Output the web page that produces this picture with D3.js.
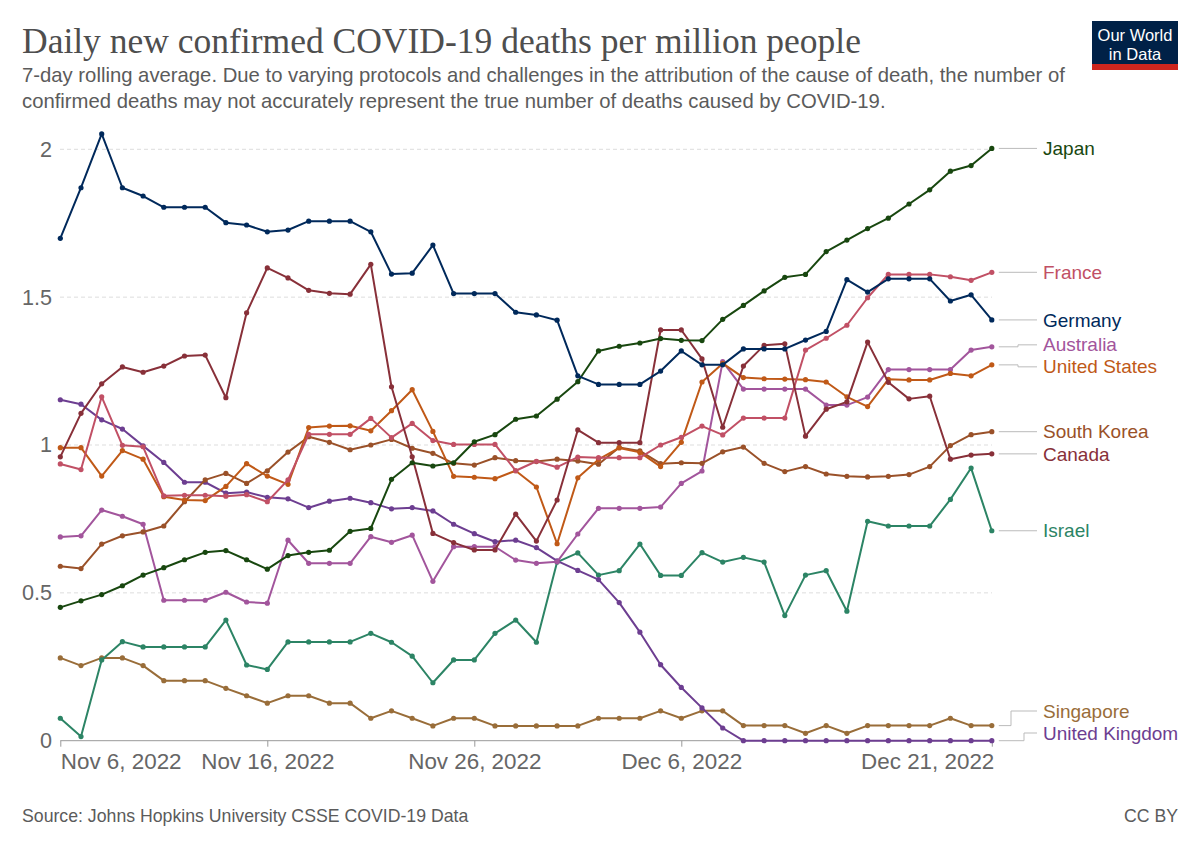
<!DOCTYPE html>
<html lang="en">
<head>
<meta charset="UTF-8">
<title>Daily new confirmed COVID-19 deaths per million people</title>
<script src="https://d3js.org/d3.v7.min.js"></script>
<style>
  body { margin: 0; background: #fff; }
  text { font-family: "Liberation Sans", Arial, sans-serif; }
</style>
</head>
<body>
<svg id="chart" width="1200" height="847"></svg>
<script>
// ---- data ----
const startDate = "2022-11-06";
const tickDates = ["2022-11-06", "2022-11-16", "2022-11-26", "2022-12-06", "2022-12-21"];
const tickLabels = ["Nov 6, 2022", "Nov 16, 2022", "Nov 26, 2022", "Dec 6, 2022", "Dec 21, 2022"];
const yTicks = [0, 0.5, 1, 1.5, 2];

const japan = [0.451,0.473,0.494,0.524,0.560,0.585,0.612,0.637,0.643,0.612,0.580,0.626,0.637,0.644,0.708,0.718,0.884,0.940,0.929,0.940,1.011,1.035,1.087,1.098,1.155,1.214,1.318,1.334,1.345,1.360,1.354,1.353,1.425,1.472,1.521,1.567,1.577,1.654,1.693,1.732,1.767,1.815,1.863,1.926,1.945,2.003];
const germany = [1.699,1.870,2.052,1.870,1.842,1.804,1.804,1.804,1.752,1.744,1.721,1.727,1.757,1.757,1.757,1.721,1.578,1.581,1.676,1.512,1.512,1.512,1.449,1.440,1.422,1.234,1.205,1.205,1.205,1.250,1.318,1.271,1.271,1.325,1.325,1.325,1.355,1.384,1.559,1.517,1.562,1.562,1.562,1.487,1.508,1.423];
const france = [0.936,0.917,1.163,0.999,0.994,0.828,0.830,0.830,0.827,0.832,0.808,0.882,1.036,1.036,1.036,1.090,1.025,1.073,1.015,1.002,1.002,1.002,0.913,0.945,0.925,0.959,0.957,0.957,0.957,1.000,1.026,1.064,1.034,1.091,1.091,1.091,1.321,1.361,1.405,1.498,1.577,1.577,1.577,1.569,1.557,1.584];
const canada = [0.960,1.107,1.207,1.264,1.246,1.267,1.301,1.304,1.160,1.447,1.599,1.565,1.523,1.513,1.510,1.611,1.197,0.960,0.701,0.670,0.645,0.645,0.766,0.675,0.814,1.051,1.008,1.008,1.008,1.389,1.389,1.291,1.060,1.267,1.337,1.342,1.030,1.121,1.146,1.348,1.212,1.156,1.165,0.952,0.966,0.970];
const unitedStates = [0.991,0.991,0.895,0.981,0.952,0.825,0.814,0.812,0.860,0.937,0.895,0.867,1.059,1.064,1.065,1.048,1.116,1.187,1.046,0.894,0.891,0.886,0.913,0.858,0.666,0.889,0.951,0.990,0.975,0.927,1.009,1.213,1.276,1.228,1.224,1.223,1.221,1.213,1.163,1.130,1.222,1.220,1.220,1.242,1.234,1.271];
const australia = [0.689,0.693,0.780,0.759,0.732,0.475,0.475,0.475,0.502,0.469,0.465,0.678,0.600,0.600,0.600,0.690,0.671,0.695,0.539,0.656,0.656,0.656,0.611,0.600,0.605,0.699,0.786,0.786,0.786,0.790,0.870,0.912,1.282,1.189,1.189,1.189,1.189,1.135,1.135,1.162,1.255,1.255,1.255,1.255,1.321,1.332];
const unitedKingdom = [1.153,1.138,1.085,1.054,0.997,0.941,0.874,0.874,0.837,0.841,0.823,0.818,0.788,0.810,0.820,0.805,0.784,0.788,0.777,0.732,0.700,0.673,0.678,0.653,0.608,0.576,0.545,0.467,0.367,0.257,0.180,0.111,0.043,0,0,0,0,0,0,0,0,0,0,0,0,0];
const israel = [0.076,0.014,0.273,0.335,0.317,0.317,0.317,0.317,0.408,0.256,0.241,0.334,0.334,0.334,0.334,0.363,0.333,0.286,0.196,0.273,0.273,0.363,0.408,0.333,0.604,0.635,0.560,0.575,0.665,0.559,0.559,0.636,0.604,0.620,0.604,0.423,0.560,0.575,0.438,0.742,0.726,0.726,0.726,0.816,0.922,0.710];
const singapore = [0.280,0.254,0.280,0.280,0.254,0.203,0.203,0.203,0.177,0.152,0.127,0.152,0.152,0.127,0.127,0.076,0.101,0.076,0.050,0.076,0.076,0.050,0.050,0.050,0.050,0.050,0.076,0.076,0.076,0.101,0.076,0.101,0.101,0.051,0.051,0.051,0.025,0.051,0.025,0.051,0.051,0.051,0.051,0.076,0.051,0.051];
const southKorea = [0.590,0.582,0.665,0.693,0.706,0.726,0.808,0.882,0.904,0.870,0.913,0.976,1.028,1.009,0.984,1.000,1.019,0.989,0.972,0.938,0.932,0.957,0.947,0.944,0.952,0.946,0.935,0.992,0.980,0.937,0.940,0.938,0.977,0.993,0.938,0.910,0.927,0.902,0.894,0.892,0.894,0.900,0.927,0.998,1.035,1.045];

const series = [
  {name: "Singapore", values: singapore, color: "#996D39"},
  {name: "Israel", values: israel, color: "#2C8465"},
  {name: "United Kingdom", values: unitedKingdom, color: "#6D3E91"},
  {name: "Australia", values: australia, color: "#A2559C"},
  {name: "South Korea", values: southKorea, color: "#9A5129"},
  {name: "United States", values: unitedStates, color: "#C05917"},
  {name: "France", values: france, color: "#C15065"},
  {name: "Canada", values: canada, color: "#883039"},
  {name: "Japan", values: japan, color: "#18470F"},
  {name: "Germany", values: germany, color: "#00295B"}
];

// ---- layout ----
const svg = d3.select("#chart");
const parse = d3.utcParse("%Y-%m-%d");
const t0 = parse(startDate);
const dayMs = 86400000;
const dates = d3.range(japan.length).map(i => new Date(t0.getTime() + i * dayMs));

const x = d3.scaleUtc().domain([dates[0], dates[dates.length - 1]]).range([60.3, 991.8]);
const y = d3.scaleLinear().domain([0, 2]).range([740.7, 149.3]);

// header
svg.append("text").attr("x", 22).attr("y", 53)
  .style("font-family", "'Liberation Serif', 'DejaVu Serif', serif")
  .style("font-size", "35.5px").attr("fill", "#4e4e4e")
  .text("Daily new confirmed COVID-19 deaths per million people");

const subtitle = [
  "7-day rolling average. Due to varying protocols and challenges in the attribution of the cause of death, the number of",
  "confirmed deaths may not accurately represent the true number of deaths caused by COVID-19."
];
svg.append("g").selectAll("text").data(subtitle).join("text")
  .attr("x", 22).attr("y", (d, i) => 82 + i * 25.5)
  .style("font-size", "20.3px").attr("fill", "#5b5b5b")
  .text(d => d);

// logo
const logo = svg.append("g").attr("transform", "translate(1092,21)");
logo.append("rect").attr("width", 86).attr("height", 49).attr("fill", "#002147");
logo.append("rect").attr("y", 43).attr("width", 86).attr("height", 6).attr("fill", "#ce261e");
logo.append("text").attr("x", 43).attr("y", 20).attr("text-anchor", "middle")
  .attr("fill", "#fff").style("font-size", "16.5px").text("Our World");
logo.append("text").attr("x", 43).attr("y", 39).attr("text-anchor", "middle")
  .attr("fill", "#fff").style("font-size", "16.5px").text("in Data");

// grid
svg.append("g").selectAll("line").data(yTicks.filter(d => d > 0)).join("line")
  .attr("x1", 60).attr("x2", 992)
  .attr("y1", d => y(d)).attr("y2", d => y(d))
  .attr("stroke", "#dddddd").attr("stroke-dasharray", "4,3");

// y axis labels
const yAxis = svg.append("g").attr("transform", "translate(52,0)")
  .call(d3.axisLeft(y).tickValues(yTicks).tickSize(0).tickPadding(0).tickFormat(d3.format("")));
yAxis.select(".domain").remove();
yAxis.selectAll("text").attr("fill", "#666").style("font-size", "21.6px")
  .style("font-family", "'Liberation Sans', Arial, sans-serif");

// x axis
const xTicks = tickDates.map(parse);
const xAxis = svg.append("g").attr("transform", `translate(0,${y(0)})`)
  .call(d3.axisBottom(x).tickValues(xTicks).tickSize(6).tickPadding(6)
    .tickFormat((d, i) => tickLabels[i]));
xAxis.select(".domain").attr("stroke", "#999").attr("d", `M${x.range()[0]},0H${x.range()[1]}`);
xAxis.selectAll(".tick line").attr("stroke", "#999");
xAxis.selectAll("text").attr("fill", "#666").style("font-size", "22.4px")
  .style("font-family", "'Liberation Sans', Arial, sans-serif")
  .attr("text-anchor", (d, i) => i === 0 ? "start" : (i === tickLabels.length - 1 ? "end" : "middle"))
  .attr("dx", (d, i) => i === 0 ? "0" : (i === tickLabels.length - 1 ? "2" : "0"));

// lines
const line = d3.line().x((d, i) => x(dates[i])).y(d => y(d));
const lines = svg.append("g").selectAll("g").data(series).join("g");
lines.append("path")
  .attr("d", d => line(d.values))
  .attr("fill", "none").attr("stroke", d => d.color)
  .attr("stroke-width", 2).attr("stroke-linejoin", "round");
lines.selectAll("circle").data(d => d.values.map(v => ({v, c: d.color}))).join("circle")
  .attr("cx", (d, i) => x(dates[i])).attr("cy", d => y(d.v))
  .attr("r", 2.6).attr("fill", d => d.c);

// labels with simple overlap relaxation
const lastX = x(dates[dates.length - 1]);
const labels = series.map(s => ({name: s.name, color: s.color, y0: y(s.values[s.values.length - 1])}))
  .sort((a, b) => a.y0 - b.y0);
labels.forEach(d => d.y = d.y0);
const gap = 22, maxY = 733;
for (let k = 0; k < 100; k++) {
  for (let i = 1; i < labels.length; i++) {
    const a = labels[i - 1], b = labels[i];
    const over = gap - (b.y - a.y);
    if (over > 0) { a.y -= over / 2; b.y += over / 2; }
  }
  const last = labels[labels.length - 1];
  if (last.y > maxY) last.y = maxY;
}
let shifted = 0;
labels.forEach(d => {
  const dy = Math.abs(d.y - d.y0);
  d.ex = dy < 5 ? 1018 : (shifted++ % 2 === 0 ? 1011 : 1024);
});

const lab = svg.append("g");
lab.selectAll("path").data(labels).join("path")
  .attr("d", d => `M${lastX + 7},${d.y0}H${d.ex}V${d.y}H1037`)
  .attr("fill", "none").attr("stroke", "#bbbbbb").attr("stroke-width", 1);
lab.selectAll("text").data(labels).join("text")
  .attr("x", 1043).attr("y", d => d.y).attr("dy", "0.35em")
  .attr("fill", d => d.color).style("font-size", "19px")
  .text(d => d.name);

// footer
svg.append("text").attr("x", 22).attr("y", 822)
  .attr("fill", "#5b5b5b").style("font-size", "17.7px")
  .text("Source: Johns Hopkins University CSSE COVID-19 Data");
svg.append("text").attr("x", 1178).attr("y", 822).attr("text-anchor", "end")
  .attr("fill", "#5b5b5b").style("font-size", "17.7px")
  .text("CC BY");
</script>
</body>
</html>
